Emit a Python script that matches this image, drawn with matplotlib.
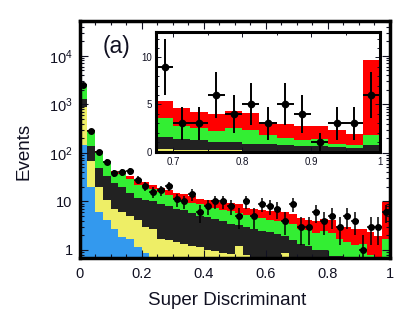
import numpy as np
import matplotlib
matplotlib.use('Agg')
import matplotlib.pyplot as plt
from matplotlib.ticker import MultipleLocator, FixedLocator, FixedFormatter, LogLocator, NullFormatter, FuncFormatter

plt.rcParams['font.family'] = ['Liberation Sans', 'DejaVu Sans']
plt.rcParams['mathtext.default'] = 'regular'

# binning of the super discriminant (40 bins of 0.025)
bin_width = 0.025
bin_lo = np.arange(40) * bin_width

# cumulative stack tops per bin (bottom -> top: blue, yellow, dark, green, red)
blue_top = [145, 20, 6.1, 4.1, 2.75, 1.85, 1.7, 1.15, 0.85, 0.55,
            0.45, 0.4, 0.35, 0.3, 0.3, 0.25, 0.25, 0.2, 0.2, 0.2,
            0.2, 0.15, 0.15, 0.15, 0.1, 0.1, 0.1, 0.05, 0.05, 0.05,
            0.05, 0.05, 0.04, 0.04, 0.04, 0.04, 0.04, 0.04, 0.04, 0.04]
yellow_top = [860, 68, 20, 10.5, 7.0, 6.1, 5.1, 4.1, 2.95, 2.75,
              1.7, 1.58, 1.45, 1.3, 1.2, 1.14, 0.98, 0.95, 0.86, 0.81,
              1.2, 0.77, 0.6, 0.55, 0.5, 0.45, 0.85, 0.22, 0.18, 0.18,
              0.18, 0.18, 0.08, 0.08, 0.08, 0.08, 0.08, 0.06, 0.06, 0.06]
dark_top = [1310, 140, 49, 33, 24, 20, 15, 11.8, 10.8, 10.2,
            8.9, 7.9, 7.0, 6.6, 5.8, 5.1, 4.75, 4.4, 3.95, 3.5,
            3.2, 2.95, 2.7, 2.5, 2.3, 2.1, 1.9, 1.58, 1.36, 1.18,
            1.0, 1.0, 0.75, 0.75, 0.64, 0.54, 0.54, 0.43, 0.36, 0.64]
green_top = [2550, 285, 104, 67, 40, 37, 28.5, 22, 21.5, 18.3,
             15.7, 13.3, 11.4, 10.5, 9.3, 8.7, 7.9, 7.4, 6.7, 6.4,
             5.8, 5.2, 4.8, 4.5, 4.2, 4.0, 3.8, 3.51, 2.72, 2.54,
             2.19, 2.47, 2.29, 1.72, 1.43, 1.25, 1.36, 0.79, 0.64, 1.72]
red_top = [2600, 293, 108, 69, 41.5, 38.5, 33, 27, 25, 21.5,
           19, 17, 14.9, 14.1, 12.7, 11, 10.5, 10.5, 9.7, 9.3,
           8.9, 7.4, 7.0, 6.8, 6.5, 6.4, 6.0, 5.41, 4.66, 4.16,
           3.94, 4.34, 4.09, 3.15, 2.97, 2.76, 2.76, 2.33, 1.9, 9.68]

# observed events
data = [2550, 280, 102, 65, 38, 40, 42, 28, 21, 16,
        17, 21, 11, 10, 14, 6, 8, 10, 10, 8,
        5, 10, 5, 9, 8, 7, 4, 9, 3, 3,
        6, 4, 5, 3, 5, 4, 1, 3, 3, 6]

layers = [(blue_top, '#3399ee'), (yellow_top, '#eeee66'), (dark_top, '#222222'),
          (green_top, '#33ee33'), (red_top, '#ff0000')]
txt = '#111122'


def draw_stack(ax, floor):
    prev = np.full(len(bin_lo), floor)
    for top, col in layers:
        top = np.array(top, dtype=float)
        ax.bar(bin_lo, top - prev, bottom=prev, width=bin_width, align='edge',
               color=col, linewidth=0)
        prev = top


fig = plt.figure(figsize=(4.09, 3.29), dpi=100)

# main plot
ax = fig.add_axes([0.1944, 0.2173, 0.7592, 0.7189])
ax.set_yscale('log')
draw_stack(ax, 1e-3)
d = np.array(data, dtype=float)
ax.errorbar(bin_lo + bin_width / 2, d, xerr=bin_width / 2, yerr=np.sqrt(d),
            fmt='o', color='k', ms=4, elinewidth=1.1, capsize=0)
ax.set_xlim(0, 1)
ax.set_ylim(0.7, 5.2e4)
ax.xaxis.set_major_locator(MultipleLocator(0.2))
ax.xaxis.set_minor_locator(MultipleLocator(0.05))
ax.xaxis.set_major_formatter(FuncFormatter(lambda v, p: f'{v:g}'))
ax.yaxis.set_major_locator(FixedLocator([1, 10, 100, 1000, 10000]))
ax.yaxis.set_major_formatter(FixedFormatter(['1', '10', '$10^2$', '$10^3$', '$10^4$']))
ax.yaxis.set_minor_locator(LogLocator(base=10, subs=range(2, 10)))
ax.yaxis.set_minor_formatter(NullFormatter())
ax.tick_params(which='both', direction='in', top=True, right=True, width=0.8, colors=txt)
ax.tick_params(which='major', length=6)
ax.tick_params(which='minor', length=3)
ax.tick_params(axis='x', labelsize=10.5, pad=7)
ax.tick_params(axis='y', labelsize=10.5, pad=5)
for s in ax.spines.values():
    s.set_linewidth(2.5)
ax.set_xlabel('Super Discriminant', fontsize=13.5, color=txt)
ax.set_ylabel('Events', fontsize=13.5, color=txt)
ax.xaxis.set_label_coords(0.475, -0.145)
ax.yaxis.set_label_coords(-0.15, 0.45)
fig.text(0.286, 0.86, '(a)', fontsize=16.5, color=txt, ha='center', va='center')

# inset, linear zoom of the high end
ins = fig.add_axes([0.3814, 0.5395, 0.5477, 0.3632])
draw_stack(ins, 0)
ins.errorbar(bin_lo + bin_width / 2, d, xerr=bin_width / 2, yerr=np.sqrt(d),
             fmt='o', color='k', ms=4.5, elinewidth=1.4, capsize=0)
ins.set_xlim(0.675, 1.0)
ins.set_ylim(0, 12.7)
ins.xaxis.set_major_locator(FixedLocator([0.7, 0.8, 0.9, 1.0]))
ins.xaxis.set_major_formatter(FixedFormatter(['0.7', '0.8', '0.9', '1']))
ins.xaxis.set_minor_locator(MultipleLocator(0.05))
ins.yaxis.set_major_locator(MultipleLocator(5))
ins.yaxis.set_minor_locator(MultipleLocator(1))
ins.tick_params(which='both', direction='in', top=True, right=True, width=0.7,
                labelsize=7, colors=txt)
ins.tick_params(which='major', length=3.5)
ins.tick_params(which='minor', length=2)
ins.tick_params(axis='x', pad=4)
ins.tick_params(axis='y', pad=3)
for s in ins.spines.values():
    s.set_linewidth(2.2)

fig.savefig('out.png', dpi=100)
